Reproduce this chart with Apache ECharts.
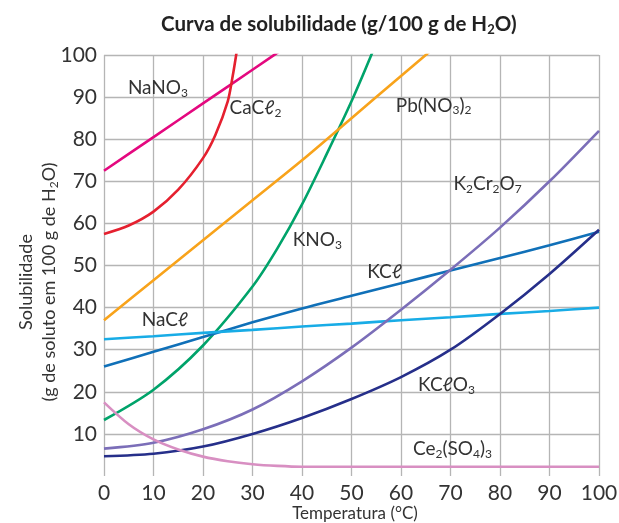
<!DOCTYPE html>
<html><head><meta charset="utf-8">
<script src="https://cdn.jsdelivr.net/npm/echarts@6/dist/echarts.min.js"></script>
<style>html,body{margin:0;padding:0;background:#fff}#c{width:619px;height:523px}</style>
</head><body><div id="c"></div>
<script>
// Temperature (°C) / solubility (g per 100 g H2O) pairs
var NaNO3 = [[0,72.5],[10,80.5],[20,88.5],[30,96.5],[40,104.5]];
var CaCl2 = [[0,57.5],[5,59.5],[10,62.8],[15,68],[20,75.5],[22.5,81],[25,89],[26,95],[26.7,100],[27.2,104]];
var KNO3 = [[0,13.3],[10,20.5],[20,31],[30,45],[35,54],[40,64.5],[45,76.5],[50,89],[54,100],[56,106]];
var PbNO32 = [[0,37],[10,46.5],[20,56],[30,65.5],[40,75],[50,85],[60,95],[65,100],[70,105]];
var KCl = [[0,26],[10,29.5],[20,33],[30,36.5],[40,39.8],[50,42.8],[60,45.8],[70,48.8],[80,51.8],[90,54.8],[100,58]];
var NaCl = [[0,32.5],[10,33.2],[20,34],[30,34.7],[40,35.5],[50,36.2],[60,37],[70,37.7],[80,38.5],[90,39.2],[100,40]];
var K2Cr2O7 = [[0,6.5],[10,7.9],[20,11.1],[30,15.8],[40,22.5],[50,30.5],[60,39.5],[70,49],[80,59],[90,70],[100,82]];
var KClO3 = [[0,4.7],[10,5.3],[20,7],[30,10],[40,13.8],[50,18.3],[60,23.5],[70,30],[80,38.5],[90,48],[100,58.5]];
var Ce2SO43 = [[0,17.5],[5,12.3],[10,8.7],[15,6.3],[20,4.6],[25,3.5],[30,2.8],[35,2.4],[40,2.2],[50,2.2],[60,2.2],[70,2.2],[80,2.2],[90,2.2],[100,2.2]];
var xTicks = [0,10,20,30,40,50,60,70,80,90,100];
var yTicks = [10,20,30,40,50,60,70,80,90,100];

var FONT = 'Lato';
var rich = {
  n: {fontFamily: FONT, fontSize: 19, color: '#333'},
  s: {fontFamily: FONT, fontSize: 12, color: '#333', padding: [10,0,0,0]}
};
function lab(str, coord) {
  return {symbolSize: 0, silent: true, data: [{coord: coord, value: 0,
    label: {show: true, position: 'inside', formatter: str, rich: rich}}]};
}
function ser(name, data, color, labelStr, labelCoord) {
  return {name: name, type: 'line', data: data, showSymbol: false, smooth: 0.3,
    clip: true,
    lineStyle: {color: color, width: 2.6}, itemStyle: {color: color},
    markPoint: lab(labelStr, labelCoord), z: 3};
}
var chart = echarts.init(document.getElementById('c'), null, {renderer: 'canvas'});
chart.setOption({
  animation: false,
  title: {
    text: '{b|Curva de solubilidade (g/100 g de H}{bs|2}{b|O)}',
    left: 156, top: 8,
    textStyle: {rich: {
      b: {fontFamily: FONT, fontSize: 20.5, fontWeight: 'bold', color: '#222'},
      bs: {fontFamily: FONT, fontSize: 13, fontWeight: 'bold', color: '#222', padding: [10,0,0,0]}
    }}
  },
  grid: {left: 104, right: 20, top: 55, bottom: 47, containLabel: false, outerBoundsMode: 'none'},
  xAxis: {type: 'value', min: 0, max: 100, interval: 10,
    axisLine: {show: false}, axisTick: {show: false},
    splitLine: {show: true, lineStyle: {color: '#b5b5b5', width: 1.3}},
    axisLabel: {fontFamily: FONT, fontSize: 21, color: '#333', margin: 7,
      formatter: function(v){ return xTicks.indexOf(v) >= 0 ? String(v) : ''; }}
  },
  yAxis: {type: 'value', min: 0, max: 100, interval: 10,
    axisLine: {show: false}, axisTick: {show: false},
    splitLine: {show: true, showMinLine: false, lineStyle: {color: '#b5b5b5', width: 1.3}},
    axisLabel: {fontFamily: FONT, fontSize: 21, color: '#333', margin: 7, showMinLabel: false,
      formatter: function(v){ return yTicks.indexOf(v) >= 0 ? String(v) : ''; }}
  },
  graphic: [{
    type: 'text', x: 38, y: 282, rotation: Math.PI/2,
    style: {
      text: '{n|Solubilidade}\n{n|(g de soluto em 100 g de H}{s|2}{n|O)}',
      align: 'center', verticalAlign: 'middle', lineHeight: 23,
      rich: {
        n: {fontFamily: FONT, fontSize: 18, fill: '#333', lineHeight: 23},
        s: {fontFamily: FONT, fontSize: 12, fill: '#333', padding: [9,0,0,0], lineHeight: 23}
      }
    }
  }, {
    type: 'text', x: 355, y: 514,
    style: {text: 'Temperatura (°C)', align: 'center', verticalAlign: 'middle',
      fontFamily: FONT, fontSize: 17, fill: '#333'}
  }],
  series: [
    ser('NaNO3', NaNO3, '#e4087f', '{n|NaNO}{s|3}', [10.9, 92.2]),
    ser('CaCl2', CaCl2, '#e5202f', '{n|CaCℓ}{s|2}', [30.6, 87.4]),
    ser('KNO3', KNO3, '#00a36a', '{n|KNO}{s|3}', [43.1, 56]),
    ser('Pb(NO3)2', PbNO32, '#f8a31b', '{n|Pb(NO}{s|3}{n|)}{s|2}', [66.6, 88]),
    ser('KCl', KCl, '#1070b8', '{n|KCℓ}', [56.7, 48.5]),
    ser('NaCl', NaCl, '#18ace6', '{n|NaCℓ}', [12.3, 37]),
    ser('K2Cr2O7', K2Cr2O7, '#7b6eb8', '{n|K}{s|2}{n|Cr}{s|2}{n|O}{s|7}', [77.5, 69.4]),
    ser('KClO3', KClO3, '#262f8a', '{n|KCℓO}{s|3}', [69.2, 21.6]),
    ser('Ce2(SO4)3', Ce2SO43, '#d88fc2', '{n|Ce}{s|2}{n|(SO}{s|4}{n|)}{s|3}', [70.4, 6.4])
  ]
});
</script></body></html>
